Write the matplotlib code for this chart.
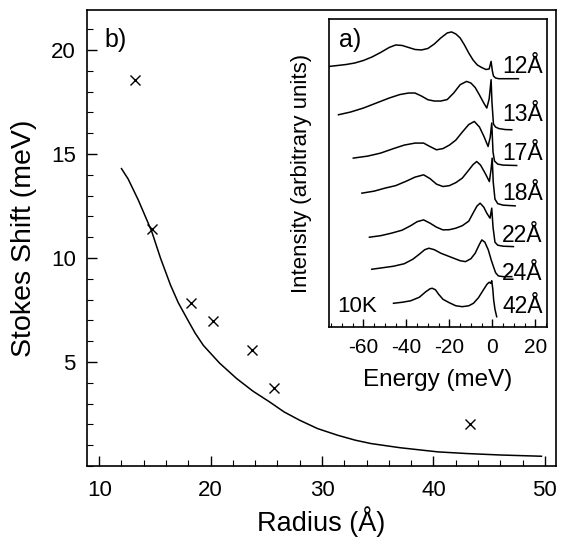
import matplotlib
matplotlib.use("Agg")
import matplotlib.pyplot as plt
from matplotlib.ticker import MultipleLocator

plt.rcParams['font.family'] = ['Liberation Sans', 'DejaVu Sans']
plt.rcParams['axes.unicode_minus'] = False

# ---- main panel b) data ----
radius_pts = [13.2, 14.7, 18.25, 20.2, 23.75, 25.7, 43.3]
shift_pts = [18.55, 11.4, 7.84, 6.96, 5.59, 3.75, 2.04]

radius_curve = [12.0, 12.6, 13.5, 14.7, 15.5, 16.4, 17.1, 17.9, 18.6, 19.35, 20.8,
                22.35, 23.8, 25.3, 26.6, 28.0, 29.6, 31.4, 33.0, 34.4, 37.0, 40.4,
                43.0, 46.0, 49.7]
shift_curve = [14.3, 13.8, 12.8, 11.3, 10.0, 8.7, 7.85, 7.07, 6.4, 5.8, 4.95,
               4.2, 3.6, 3.08, 2.6, 2.2, 1.8, 1.48, 1.24, 1.08, 0.88, 0.68,
               0.6, 0.53, 0.47]

# ---- inset a) spectra (energy in meV, intensity in arbitrary units) ----
e12 = [-75.8, -72, -68, -64, -60, -56, -52, -48, -45, -42, -39, -36, -33, -30, -27, -24,
       -21, -19, -17, -15, -13, -11, -9, -7, -5, -3, -1.5, -0.6, 0, 0.5, 1.5, 3, 6, 12.1]
i12 = [260.6, 261.5, 262.5, 264, 266.5, 270, 274.5, 279.5, 282, 281.5, 279.5, 277.5, 277,
       278.5, 283, 289, 294, 295, 293, 289, 282, 274, 267, 262, 259.5, 257.5, 258, 265.6,
       256, 251, 249, 248.3, 248.3, 248.3]

e13 = [-71.6, -66, -60, -54, -48, -43, -39, -36, -33, -30, -27, -24, -21, -18, -15, -12,
       -10, -8, -6, -4, -2.6, -1.5, -0.6, -0.2, 0.5, 1.5, 3, 6, 9]
i13 = [212.3, 215, 219, 224, 229, 232.5, 234, 234, 231, 227.3, 226, 226, 227.5, 234, 242.3,
       245.6, 244, 239.5, 232, 224, 219, 228, 247.3, 225, 203, 200, 198.5, 197.5, 197.3]

e17 = [-64.7, -58, -52, -46, -41, -36, -32, -29, -26, -23, -20, -17, -14, -11, -8.4, -6,
       -4, -2, -1, -0.3, 0.3, 1, 2.5, 5, 11.3]
i17 = [169, 171, 174, 178.5, 182, 184, 184, 180.5, 177.3, 178.5, 182, 187, 195, 202.5,
       205.6, 200, 191, 180.6, 190, 204, 175, 166, 163, 162, 161.6]

e18 = [-60.7, -55, -50, -45, -40, -36, -32, -29, -26, -23, -20, -17, -14, -11, -9, -7.3,
       -5.5, -3.4, -1.4, -0.6, -0.1, 0.4, 1.2, 2.5, 5, 10.6]
i18 = [134, 136, 139, 141.5, 146, 150, 152.3, 148.5, 143, 140.6, 141.5, 144.5, 149, 157,
       162.5, 165.6, 162, 154, 145.6, 158, 169, 145, 128, 123.5, 122, 121.3]

e22 = [-57.2, -52, -47, -42, -38, -35, -32, -29, -26, -23, -20, -17, -14, -11, -9, -7.2,
       -5.7, -4, -2.6, -1.1, -0.3, 0.3, 1.2, 2.5, 5, 9.8]
i22 = [90, 91.5, 94, 97, 101.5, 105.5, 107.3, 104, 100, 97.3, 97.5, 99, 101.5, 106, 114,
       121, 124, 120, 114, 109, 119, 100, 85, 82, 81, 80.6]

e24 = [-56.1, -51, -46, -41, -37, -34, -31.5, -29.5, -27, -24, -21, -18, -15, -12.5, -10,
       -8, -6, -4.9, -3.5, -1.9, -0.5, 0.5, 1.5, 2.8, 5, 9]
i24 = [58, 59.5, 61, 63.5, 68, 73, 77.5, 79, 77.5, 74, 71.5, 69, 66.5, 65.6, 68.5, 74, 83,
       87.3, 85, 77.3, 67, 60.6, 54.5, 51.3, 50.6, 50.6]

e42 = [-46, -42, -38, -34, -31, -29, -28, -26.5, -25, -23, -20, -17, -14, -11, -8.8, -6.5,
       -4.2, -2.5, -1.5, -0.8, -0.3, 0.2, 0.6, 1.2, 2.0]
i42 = [24, 25, 26.5, 30, 35.5, 38.5, 39, 37.5, 33, 28, 24.5, 21.5, 20.6, 21.5, 24, 29.5,
       37.3, 43, 45, 44, 46.5, 38, 27.3, 18, 10.6]

spec_E = [e12, e13, e17, e18, e22, e24, e42]
spec_I = [i12, i13, i17, i18, i22, i24, i42]
spec_labels = ['12Å', '13Å', '17Å', '18Å', '22Å', '24Å', '42Å']
label_levels = [260.6, 212.3, 174, 134, 92, 54, 21]

fig = plt.figure(figsize=(5.61, 5.41), dpi=100)
ax = fig.add_axes([0.155, 0.1386, 0.836, 0.843])

ax.plot(radius_curve, shift_curve, color='black', lw=1.1)
ax.plot(radius_pts, shift_pts, linestyle='none', marker='x', color='black',
        markersize=6.5, markeredgewidth=1.0)

ax.set_xlim(8.9, 51)
ax.set_ylim(0, 21.93)
ax.xaxis.set_major_locator(MultipleLocator(10))
ax.xaxis.set_minor_locator(MultipleLocator(2))
ax.yaxis.set_major_locator(MultipleLocator(5))
ax.yaxis.set_minor_locator(MultipleLocator(1))
ax.set_yticks([5, 10, 15, 20])
ax.tick_params(which='both', direction='in', top=False, right=False, labelsize=16)
ax.tick_params(which='major', length=7, width=1)
ax.tick_params(which='minor', length=4, width=0.8)
ax.tick_params(axis='x', which='major', pad=10)
ax.tick_params(axis='y', which='major', pad=8)
for s in ax.spines.values():
    s.set_linewidth(1.2)
ax.set_xlabel('Radius (Å)', fontsize=19.5, labelpad=4)
ax.set_ylabel('Stokes Shift (meV)', fontsize=20.5, labelpad=10)
ax.text(10.5, 20.5, 'b)', fontsize=18, va='center', ha='left')

# ---- inset ----
ins = fig.add_axes([0.5865, 0.395, 0.3885, 0.570])
for E, I in zip(spec_E, spec_I):
    ins.plot(E, I, color='black', lw=1.1)
for lab, lev in zip(spec_labels, label_levels):
    ins.text(4.5, lev, lab, fontsize=16.5, va='center', ha='left')
ins.text(-72.2, 21, '10K', fontsize=16, va='center', ha='left')
ins.text(-71.5, 287, 'a)', fontsize=18, va='center', ha='left')
ins.set_xlim(-76, 25.4)
ins.set_ylim(0, 308)
ins.xaxis.set_major_locator(MultipleLocator(20))
ins.xaxis.set_minor_locator(MultipleLocator(5))
ins.set_yticks([])
ins.tick_params(which='both', direction='in', top=False, labelsize=15)
ins.tick_params(which='major', length=6, width=1)
ins.tick_params(which='minor', length=3, width=0.8)
ins.tick_params(axis='x', pad=8)
for s in ins.spines.values():
    s.set_linewidth(1.2)
ins.set_xlabel('Energy (meV)', fontsize=17.5, labelpad=8)
ins.set_ylabel('Intensity (arbitrary units)', fontsize=16, labelpad=12)

fig.savefig('out.png', dpi=100)
